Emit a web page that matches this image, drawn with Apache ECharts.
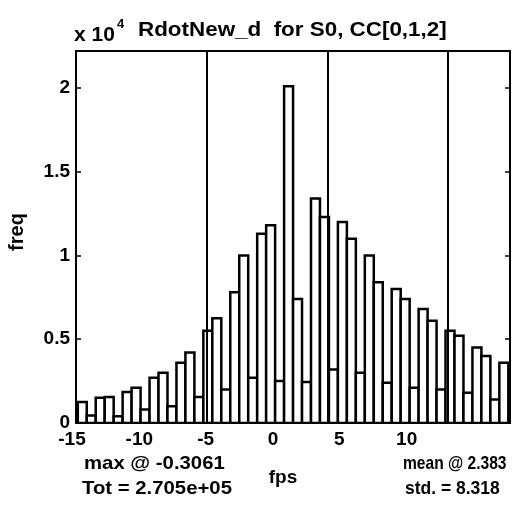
<!DOCTYPE html>
<html>
<head>
<meta charset="utf-8">
<script src="https://cdn.jsdelivr.net/npm/echarts@6/dist/echarts.min.js"></script>
<style>
html,body{margin:0;padding:0;background:#fff;}
#chart{width:520px;height:507px;}
</style>
</head>
<body>
<div id="chart"></div>
<script>
// ---- data (counts in units of 10^4) ----
const binCenters = [
  -14.566,-13.946,-13.326,-12.706,-12.086,-11.466,-10.846,-10.226,-9.606,-8.986,
  -8.366,-7.746,-7.126,-6.506,-5.886,-5.266,-4.646,-4.026,-3.406,-2.786,
  -2.166,-1.546,-0.926,-0.306,0.314,0.934,1.554,2.174,2.794,3.414,
  4.034,4.654,5.274,5.894,6.514,7.134,7.754,8.374,8.994,9.614,
  10.234,10.854,11.474,12.094,12.714,13.334,13.954,14.574
];
const freqValues = [
  0.125,0.045,0.15,0.155,0.04,0.185,0.21,0.08,0.27,0.30,
  0.10,0.36,0.42,0.155,0.55,0.625,0.20,0.78,1.0,0.27,
  1.13,1.18,0.25,2.01,0.74,0.245,1.34,1.23,0.32,1.2,
  1.10,0.30,1.0,0.84,0.24,0.80,0.74,0.21,0.68,0.61,
  0.20,0.55,0.52,0.18,0.45,0.40,0.14,0.36
];
const binWidth = 0.62;
const meanValue = 2.383;
const stdValue = 8.318;
const statLines = [meanValue - stdValue, meanValue, meanValue + stdValue];
const xTicks = [-15, -10, -5, 0, 5, 10];
const yTicks = [0, 0.5, 1, 1.5, 2];
const titleText = 'RdotNew_d  for S0, CC[0,1,2]';
const statsLeft = ['max @ -0.3061', 'Tot = 2.705e+05'];
const statsRight = ['mean @ 2.383', 'std. = 8.318'];

// styling: leftward offset (px) of printed x tick labels, as seen in the scan
const xLabelShift = [4, 9, 15, 20, 26, 31];

const FONT = '"Liberation Sans", Arial, sans-serif';
const chart = echarts.init(document.getElementById('chart'), null, {renderer:'canvas'});

const histData = binCenters.map((c, i) => [c, freqValues[i]]);

const labelFont = {color:'#000', fontSize:19, fontWeight:'bold', fontFamily:FONT};
const xRich = {};
xTicks.forEach((t, i) => {
  xRich['t' + i] = Object.assign({}, labelFont, {padding:[0, 2 * xLabelShift[i], 0, 0]});
});

const axisLineStyle = {color:'#000', width:2};
const tickStyle = {show:true, inside:true, length:5, lineStyle:{color:'#000', width:1.5}};

function txt(x, y, text, size, opts) {
  opts = opts || {};
  return {
    type:'text', x:x, y:y, scaleX:opts.sx || 1, rotation:opts.rot || 0,
    style:{text:text, font:'bold ' + size + 'px ' + FONT, fill:'#000',
           align:opts.align || 'left', verticalAlign:'middle'}
  };
}

chart.setOption({
  animation:false,
  backgroundColor:'#fff',
  grid:{left:76, right:10, top:51, bottom:84, show:true, borderColor:'#000', borderWidth:2, backgroundColor:'#fff'},
  xAxis:{
    type:'value', min:-15, max:15, interval:5,
    axisLine:{show:true, onZero:false, lineStyle:axisLineStyle},
    axisTick:tickStyle,
    splitLine:{show:false},
    axisLabel:Object.assign({}, labelFont, {margin:7, showMaxLabel:false, rich:xRich,
      formatter:(v)=> { const i = xTicks.indexOf(v); return i >= 0 ? '{t' + i + '|' + v + '}' : ''; }})
  },
  yAxis:[{
    type:'value', min:0, max:2.22, interval:0.5, position:'left',
    axisLine:{show:true, onZero:false, lineStyle:axisLineStyle},
    axisTick:tickStyle,
    splitLine:{show:false},
    axisLabel:Object.assign({}, labelFont, {margin:6, showMaxLabel:false,
      formatter:(v)=> yTicks.indexOf(v) >= 0 ? String(v) : ''})
  },{
    type:'value', min:0, max:2.22, interval:0.5, position:'right',
    axisLine:{show:true, onZero:false, lineStyle:axisLineStyle},
    axisTick:tickStyle,
    splitLine:{show:false},
    axisLabel:{show:false}
  }],
  series:[{
    type:'custom',
    data:histData,
    encode:{x:0, y:1},
    clip:true,
    renderItem:function(params, api){
      const c = api.value(0), v = api.value(1);
      const p0 = api.coord([c - binWidth/2, 0]);
      const p1 = api.coord([c + binWidth/2, v]);
      return {
        type:'rect',
        shape:{x:p0[0], y:p1[1], width:p1[0]-p0[0], height:p0[1]-p1[1]},
        style:{fill:'#fff', stroke:'#000', lineWidth:2.5}
      };
    }
  },{
    type:'line',
    data:[],
    markLine:{
      silent:true, symbol:'none', animation:false,
      label:{show:false},
      lineStyle:{color:'#000', width:2, type:'solid'},
      data:statLines.map(x => ({xAxis:x}))
    }
  }],
  graphic:[
    txt(138, 30, titleText, 20, {sx:1.12}),
    txt(74, 35, 'x 10', 21),
    txt(117, 24, '4', 13),
    txt(17, 232, 'freq', 20, {rot:Math.PI/2, align:'center'}),
    txt(283, 478, 'fps', 19, {align:'center'}),
    txt(84, 464, statsLeft[0], 19, {sx:1.07}),
    txt(82, 489, statsLeft[1], 19, {sx:1.07}),
    txt(403, 464, statsRight[0], 19, {sx:0.82}),
    txt(405, 489, statsRight[1], 19, {sx:0.92})
  ]
});
</script>
</body>
</html>
